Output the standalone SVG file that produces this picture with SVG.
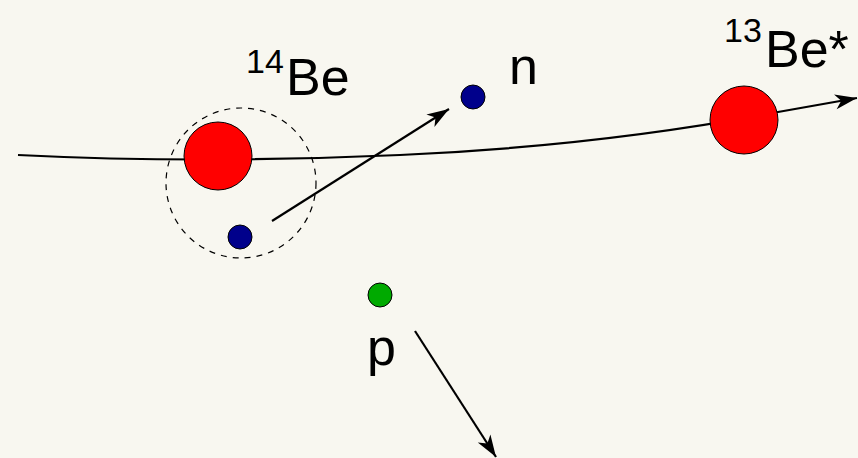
<svg xmlns="http://www.w3.org/2000/svg" width="858" height="458" viewBox="0 0 858 458">
<defs>
<style>
text{font-family:"Liberation Sans",Arial,sans-serif;fill:#000}
.lbl{font-size:52px}
.sup{font-size:34px}
.trk{fill:none;stroke:#000;stroke-width:2.2}
.nuc{fill:#ff0000;stroke:#000;stroke-width:1}
.neu{fill:#00008b;stroke:#000;stroke-width:1}
.pro{fill:#00aa00;stroke:#000;stroke-width:1}
</style>
<marker id="ah" markerUnits="userSpaceOnUse" markerWidth="26" markerHeight="18" refX="0" refY="0" viewBox="-24 -9 26 18" orient="auto">
<path d="M0,0 L-22,-7.5 L-16,0 L-22,7.5 Z" fill="#000"/>
</marker>
</defs>
<rect width="858" height="458" fill="#f8f7f0"/>
<g id="connectors">
<path class="trk" d="M18,155 Q200,164 400,155 T778,112 L857,98" marker-end="url(#ah)"/>
<line class="trk" x1="272" y1="221" x2="449" y2="109" marker-end="url(#ah)"/>
<line class="trk" x1="415" y1="331" x2="496" y2="457" marker-end="url(#ah)"/>
</g>
<g id="be14">
<circle cx="241" cy="183" r="75" fill="none" stroke="#000" stroke-width="1.2" stroke-dasharray="6,6"/>
<circle class="nuc" cx="218" cy="156" r="34"/>
<circle class="neu" cx="240" cy="237" r="12"/>
<text x="246" y="73" class="sup">14</text>
<text x="286" y="95" class="lbl">Be</text>
</g>
<g id="neutron">
<circle class="neu" cx="473" cy="97" r="12"/>
<text x="509" y="84" class="lbl">n</text>
</g>
<g id="be13">
<circle class="nuc" cx="744" cy="120" r="34"/>
<text x="724" y="42" class="sup">13</text>
<text x="765" y="67" class="lbl">Be*</text>
</g>
<g id="proton">
<circle class="pro" cx="380" cy="295" r="12"/>
<text x="367" y="365" class="lbl">p</text>
</g>
</svg>
